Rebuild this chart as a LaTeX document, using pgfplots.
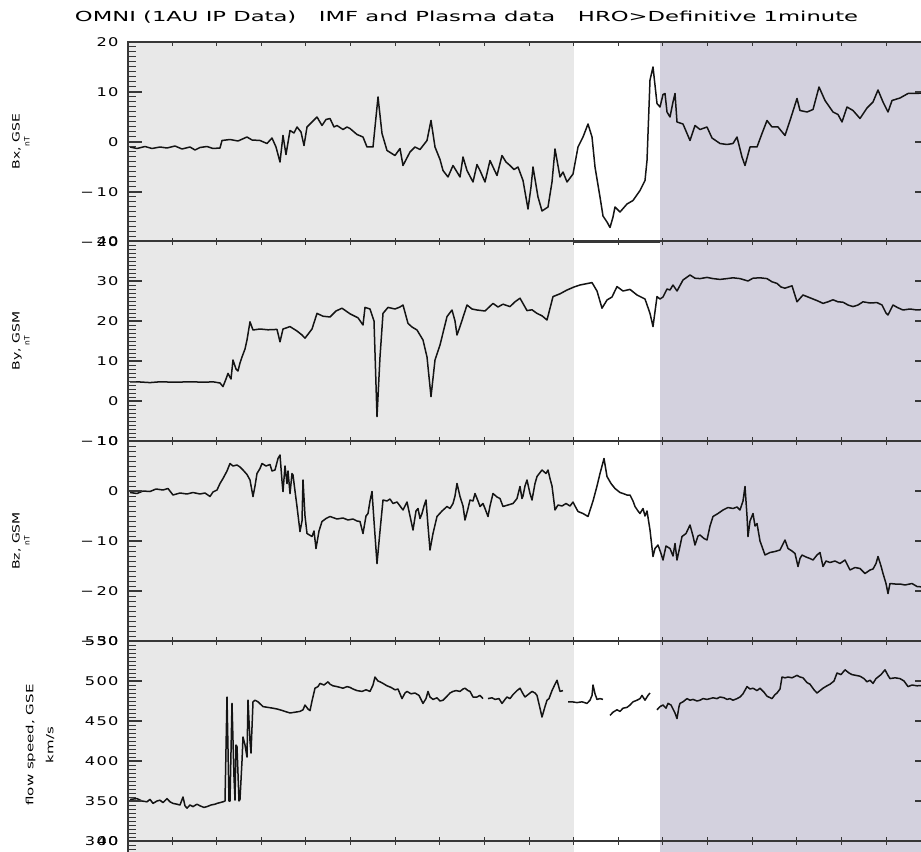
\documentclass[border=0pt]{standalone}
\usepackage{fontspec}
\usepackage{graphicx}
\usepackage{pgfplots}
\pgfplotsset{compat=1.18}
\setmainfont{DejaVu Sans}
\newfontfamily\tickfont{DejaVu Sans}[LetterSpace=8]
\definecolor{bgA}{RGB}{232,232,232}
\definecolor{bgB}{RGB}{211,209,222}
\definecolor{axcol}{RGB}{55,55,55}
\newcommand{\mn}{\symbol{"2212}\hspace{2bp}}
\newcommand{\tl}[1]{\scalebox{1.35}[1]{#1}}
\pgfplotsset{
 panel/.style={
   scale only axis, width=801bp, height=200bp,
   xmin=128, xmax=929,
   axis on top, clip=true,
   xtick=\empty,
   axis line style={axcol, line width=1.3bp},
   major tick style={axcol, line width=1.1bp},
   minor tick style={axcol, line width=1.0bp},
   major tick length=14bp, minor tick length=8bp,
   yticklabel style={font=\fontsize{12bp}{13bp}\tickfont, xshift=-6bp},
   anchor=north west,
   unbounded coords=jump,
 },
 xt/.style={
   scale only axis, width=801bp, height=200bp,
   xmin=128, xmax=929, ymin=0, ymax=1,
   anchor=north west,
   ytick=\empty,
   xtick={172,216.63,261.25,305.88,350.5,395.13,439.75,484.38,529,573.63,618.25,662.88,707.5,752.13,796.75,841.38,886},
   xticklabels={},
   axis line style={draw=none},
   major tick style={axcol, line width=0.9bp},
   major tick length=4bp,
 },
 dline/.style={black!92, line width=1.5bp, line join=round},
}
\begin{document}
\begin{tikzpicture}
\useasboundingbox (0,0) rectangle (921bp,-852bp);
% Panel 1 Bx
\begin{axis}[panel, at={(128bp,-42bp)}, ymin=-20, ymax=20,
  ytick={-20,-10,0,10,20}, minor ytick={-19,-18,...,19},
  yticklabels={\tl{\mn20},\tl{\mn10},\tl{0},\tl{10},\tl{20}}]
\fill[bgA] (axis cs:128,-20) rectangle (axis cs:574,20);
\fill[bgB] (axis cs:660,-20) rectangle (axis cs:929,20);
\addplot[dline] coordinates {
(130,-1.0)(137,-1.3)(145,-0.9)(152,-1.3)(160,-1.0)(167,-1.2)(175,-0.8)(182,-1.4)(190,-1.0)(195,-1.6)(200,-1.1)(207,-0.9)(213,-1.3)(220,-1.2)(222,0.3)(230,0.5)(238,0.2)(247,1.0)(252,0.4)(260,0.3)(267,-0.3)(272,0.8)(276,-1.0)(280,-4.0)(283,1.3)(286,-2.5)(290,2.3)(294,1.8)(297,3.0)(301,2.0)(304,-0.7)(307,3.0)(312,4.0)(317,5.0)(322,3.3)(326,4.5)(330,4.7)(334,3.0)(337,3.3)(343,2.5)(347,3.0)(350,2.7)(357,1.5)(363,1.0)(367,-1.0)(373,-1.0)(378,9.0)(382,1.7)(387,-1.7)(391,-2.2)(395,-2.7)(400,-1.3)(403,-4.7)(410,-2.0)(415,-1.0)(420,-1.5)(427,0.3)(431,4.3)(435,-1.0)(440,-3.5)(443,-5.7)(448,-7.0)(453,-4.7)(457,-6.0)(460,-7.0)(463,-3.0)(467,-5.7)(473,-8.0)(477,-4.5)(480,-5.7)(485,-8.0)(490,-3.7)(493,-5.0)(497,-6.7)(502,-2.7)(506,-4.0)(510,-4.7)(514,-5.5)(518,-5.0)(523,-7.7)(528,-13.4)(531,-9.0)(533,-5.0)(538,-11.0)(542,-13.8)(548,-13.0)(552,-8.0)(555,-1.4)(560,-7.0)(563,-6.0)(567,-8.0)(573,-6.4)(578,-1.0)(583,1.0)(588,3.6)(592,1.0)(595,-5.0)(600,-11.0)(603,-14.8)(607,-16.0)(610,-17.1)(613,-15.0)(615,-13.0)(620,-14.0)(627,-12.4)(633,-11.7)(640,-9.7)(645,-7.7)(647,-3.7)(650,12.4)(653,15.0)(657,7.7)(660,7.0)(663,9.5)(665,9.7)(667,6.0)(670,5.0)(673,8.0)(675,9.7)(677,4.0)(683,3.6)(690,0.3)(695,3.3)(700,2.5)(707,3.0)(712,0.8)(720,-0.3)(727,-0.5)(733,-0.3)(737,1.0)(742,-3.0)(745,-4.7)(750,-1.0)(757,-1.0)(762,1.7)(767,4.3)(772,3.0)(778,3.0)(785,1.3)(790,4.3)(797,8.7)(800,6.3)(807,6.0)(813,6.5)(819,11.0)(825,8.3)(833,6.0)(838,5.5)(842,4.0)(847,7.0)(853,6.3)(860,4.7)(867,6.8)(873,8.0)(878,10.4)(883,8.0)(888,6.0)(892,8.3)(900,8.8)(908,9.7)(917,9.7)(929,10.0)
};
\end{axis}
\begin{axis}[xt, at={(128bp,-42bp)}]\end{axis}
% Panel 2 By
\begin{axis}[panel, at={(128bp,-241bp)}, ymin=-10, ymax=40,
  ytick={-10,0,10,20,30,40}, minor ytick={-9,-8,...,39},
  yticklabels={\tl{\mn10},\tl{0},\tl{10},\tl{20},\tl{30},\tl{40}}]
\fill[bgA] (axis cs:128,-10) rectangle (axis cs:574,40);
\fill[bgB] (axis cs:660,-10) rectangle (axis cs:929,40);
\addplot[dline] coordinates {
(130,4.8)(137,4.8)(150,4.6)(160,4.8)(175,4.7)(190,4.8)(205,4.7)(213,4.8)(220,4.5)(223,3.6)(226,5.5)(228,6.9)(231,5.5)(233,10.25)(236,8.0)(238,7.5)(240,9.5)(242,11.0)(245,13.0)(247,15.25)(250,19.8)(253,17.75)(260,18.0)(268,17.8)(277,17.9)(280,14.8)(283,18.0)(290,18.6)(297,17.5)(302,16.5)(305,15.7)(312,18.0)(317,21.9)(323,21.2)(330,21.0)(336,22.5)(342,23.2)(350,21.8)(358,20.8)(363,19.0)(365,23.4)(370,23.0)(374,20.0)(377,-3.9)(380,11.0)(383,21.9)(388,23.4)(395,23.0)(400,23.5)(403,24.0)(408,19.4)(412,18.5)(417,17.75)(423,15.25)(427,11.0)(431,1.1)(435,10.25)(440,14.0)(447,21.1)(452,22.75)(455,20.0)(457,16.5)(460,18.6)(467,24.0)(472,23.0)(477,22.75)(485,22.5)(493,24.4)(498,23.5)(503,24.2)(510,23.6)(515,24.8)(520,25.7)(527,22.6)(532,22.8)(537,21.9)(542,21.3)(547,20.25)(553,26.1)(560,26.8)(567,27.75)(574,28.5)(580,29.0)(586,29.3)(592,29.6)(597,27.5)(602,23.2)(607,25.25)(612,26.0)(617,28.6)(623,27.5)(630,27.9)(637,26.5)(645,25.5)(650,21.9)(653,18.6)(657,26.1)(660,25.5)(663,26.0)(667,28.0)(670,27.75)(673,29.0)(677,27.5)(683,30.25)(690,31.5)(695,30.7)(700,30.6)(707,30.9)(713,30.6)(720,30.4)(727,30.6)(733,30.8)(740,30.6)(748,30.0)(753,30.7)(760,30.8)(767,30.6)(772,29.8)(777,29.4)(781,28.5)(785,28.2)(792,28.8)(797,24.8)(803,26.5)(808,26.0)(813,25.5)(818,25.0)(823,24.4)(828,24.8)(833,25.3)(838,24.8)(843,24.7)(848,24.0)(853,23.6)(858,24.0)(863,24.8)(870,24.5)(877,24.6)(882,24.0)(886,22.0)(888,21.5)(893,24.0)(898,23.3)(903,22.75)(910,23.0)(917,22.75)(929,23.0)
};
\end{axis}
\begin{axis}[xt, at={(128bp,-241bp)}]\end{axis}
% Panel 3 Bz
\begin{axis}[panel, at={(128bp,-441bp)}, ymin=-30, ymax=10,
  ytick={-30,-20,-10,0,10}, minor ytick={-29,-28,...,9},
  yticklabels={\tl{\mn30},\tl{\mn20},\tl{\mn10},\tl{0},\tl{10}}]
\fill[bgA] (axis cs:128,-30) rectangle (axis cs:574,10);
\fill[bgB] (axis cs:660,-30) rectangle (axis cs:929,10);
\addplot[dline] coordinates {
(130,-0.3)(137,-0.5)(143,0.0)(150,-0.1)(156,0.4)(163,0.2)(168,0.5)(173,-0.8)(180,-0.4)(187,-0.6)(193,-0.3)(200,-0.6)(205,-0.4)(210,-1.1)(213,-0.2)(217,0.2)(220,1.5)(223,2.5)(227,4.0)(230,5.5)(233,5.0)(237,5.2)(240,4.8)(243,4.2)(247,3.3)(250,2.2)(253,-1.1)(255,1.0)(257,3.5)(260,4.5)(262,5.5)(266,5.0)(270,5.3)(272,4.0)(275,4.2)(278,6.5)(280,7.2)(282,2.0)(283,-0.1)(285,5.0)(287,1.5)(288,4.0)(290,-0.5)(292,3.5)(293,3.2)(295,0.0)(297,-3.1)(300,-8.1)(302,-6.0)(303,2.2)(305,-5.0)(307,-8.5)(312,-9.1)(314,-8.0)(316,-11.5)(319,-8.0)(322,-6.1)(326,-5.5)(330,-5.1)(337,-5.6)(343,-5.4)(348,-5.8)(353,-5.6)(357,-6.0)(360,-6.1)(363,-8.5)(366,-5.0)(368,-4.5)(370,-2.0)(372,-0.1)(374,-6.0)(377,-14.5)(380,-8.0)(383,-1.8)(387,-2.0)(390,-1.6)(393,-2.5)(397,-2.2)(400,-3.0)(403,-3.8)(407,-2.2)(410,-5.0)(413,-7.8)(416,-4.0)(418,-3.5)(420,-5.5)(422,-4.5)(424,-3.0)(426,-1.8)(428,-7.0)(430,-11.8)(433,-8.5)(437,-5.1)(442,-4.0)(447,-3.1)(450,-3.5)(453,-2.5)(455,-1.0)(457,1.5)(460,-1.1)(463,-3.0)(465,-5.8)(468,-3.5)(470,-1.8)(473,-2.0)(475,-0.5)(478,-2.0)(480,-3.1)(483,-2.5)(485,-3.5)(488,-5.1)(490,-3.0)(493,-0.5)(497,-1.2)(500,-1.5)(503,-3.1)(508,-2.8)(513,-2.5)(517,-1.5)(520,0.9)(522,-1.5)(523,-1.0)(525,1.0)(527,2.2)(530,-0.5)(532,-1.8)(535,1.5)(537,2.9)(542,4.2)(546,3.5)(548,4.2)(550,2.5)(552,1.0)(555,-3.8)(558,-2.8)(562,-3.0)(566,-2.5)(570,-3.0)(573,-2.2)(575,-3.0)(578,-4.1)(583,-4.5)(588,-5.1)(593,-2.0)(597,1.0)(600,3.5)(604,6.5)(607,2.9)(611,1.5)(615,0.5)(620,-0.3)(623,-0.5)(627,-0.8)(630,-0.8)(633,-2.0)(635,-3.1)(638,-4.0)(640,-4.5)(643,-3.5)(645,-5.0)(647,-4.0)(650,-7.8)(653,-13.1)(655,-11.5)(658,-10.8)(661,-12.5)(663,-13.8)(666,-11.0)(670,-11.5)(673,-13.0)(675,-10.5)(677,-13.8)(680,-11.0)(682,-9.1)(686,-8.5)(690,-6.8)(693,-9.0)(695,-10.8)(698,-9.0)(700,-8.8)(704,-9.5)(707,-9.8)(710,-7.0)(713,-5.1)(718,-4.5)(723,-3.8)(728,-3.3)(733,-3.5)(737,-3.2)(740,-3.8)(743,-2.0)(745,0.9)(747,-5.0)(748,-9.1)(750,-6.0)(753,-4.5)(755,-7.0)(757,-6.5)(760,-10.0)(765,-12.8)(770,-12.3)(775,-12.1)(780,-11.8)(785,-9.8)(788,-11.5)(792,-12.0)(795,-12.5)(798,-15.1)(800,-13.5)(802,-12.8)(806,-13.2)(810,-13.5)(813,-13.8)(817,-12.8)(820,-12.3)(823,-15.1)(826,-14.0)(830,-14.3)(835,-14.0)(840,-14.5)(845,-13.8)(850,-15.8)(855,-15.3)(860,-15.5)(865,-16.5)(870,-15.8)(873,-15.6)(876,-14.5)(878,-13.1)(881,-15.0)(883,-16.5)(886,-18.5)(888,-20.5)(890,-18.5)(895,-18.6)(900,-18.6)(905,-18.8)(912,-18.5)(917,-19.1)(929,-19.3)
};
\end{axis}
\begin{axis}[xt, at={(128bp,-441bp)}]\end{axis}
% Panel 4 flow speed
\begin{axis}[panel, at={(128bp,-641bp)}, ymin=300, ymax=550,
  ytick={300,350,400,450,500,550}, minor ytick={305,310,...,545},
  yticklabels={\tl{300},\tl{350},\tl{400},\tl{450},\tl{500},\tl{550}}]
\fill[bgA] (axis cs:128,300) rectangle (axis cs:574,550);
\fill[bgB] (axis cs:660,300) rectangle (axis cs:929,550);
\addplot[dline] coordinates {
(130,352)(137,353)(142,350)(147,349)(150,352)(153,347)(157,350)(160,351)(163,348)(167,353)(170,349)(173,347)(177,346)(180,345)(183,355)(185,344)(187,341)(190,345)(193,343)(197,346)(200,344)(204,342)(207,343)(211,345)(215,346)(217,347)(220,348)(223,349)(225,350)(227,480)(229,350)(230,350)(232,472)(234,380)(235,351)(236,420)(237,418)(239,350)(240,352)(242,400)(243,430)(245,420)(247,405)(248,476)(250,425)(251,410)(253,474)(255,476)(258,474)(263,468)(268,467)(273,466)(277,465)(280,464)(285,462)(290,460)(295,461)(300,462)(303,464)(305,470)(308,465)(310,463)(312,475)(315,491)(318,493)(320,497)(324,495)(328,499)(330,496)(333,494)(337,493)(340,492)(343,491)(347,493)(350,492)(353,490)(357,488)(362,487)(366,489)(370,487)(373,495)(375,505)(378,500)(380,499)(383,497)(387,494)(391,492)(395,489)(398,490)(402,478)(405,485)(407,487)(411,484)(415,485)(419,482)(423,472)(426,478)(428,487)(430,480)(433,477)(437,479)(440,475)(443,476)(447,481)(450,485)(453,487)(456,488)(460,487)(463,490)(465,491)(468,488)(470,487)(473,480)(477,480)(480,482)(483,478)(485,nan)(488,478)(492,479)(495,477)(499,478)(502,472)(505,477)(507,480)(510,478)(513,483)(517,488)(520,491)(523,484)(525,480)(528,483)(532,487)(535,485)(537,482)(540,466)(542,455)(545,468)(547,476)(549,478)(552,488)(555,496)(557,501)(560,487)(563,488)(565,nan)(568,474)(572,474)(577,473)(582,474)(587,472)(590,476)(592,482)(593,495)(595,484)(597,477)(600,478)(603,477)(606,nan)(610,457)(613,461)(617,464)(620,462)(623,466)(627,467)(630,470)(633,474)(637,476)(640,478)(642,482)(645,476)(648,482)(650,485)(653,nan)(657,464)(660,468)(663,470)(666,466)(668,472)(671,470)(673,465)(675,460)(677,453)(679,468)(680,472)(683,474)(687,478)(690,476)(693,477)(697,475)(700,476)(703,478)(707,477)(710,478)(713,479)(717,478)(720,480)(724,479)(727,477)(730,478)(733,476)(737,478)(740,480)(743,484)(747,493)(750,490)(753,491)(757,488)(760,491)(764,486)(767,481)(772,478)(775,483)(777,485)(780,490)(782,505)(785,504)(788,505)(792,504)(797,507)(800,505)(803,504)(807,498)(810,496)(814,489)(817,485)(820,488)(823,491)(827,494)(830,496)(834,500)(837,510)(841,508)(845,514)(849,510)(852,508)(856,507)(860,506)(864,503)(867,499)(870,501)(873,497)(876,503)(878,505)(881,508)(885,514)(888,507)(890,503)(895,504)(900,503)(904,500)(908,493)(912,495)(917,494)(929,495)
};
\end{axis}
\begin{axis}[xt, at={(128bp,-641bp)}]\end{axis}
% Panel 5 (cut off)
\begin{axis}[panel, at={(128bp,-841bp)}, ymin=-10, ymax=40,
  ytick={40}, minor ytick={-9,-8,...,39}, yticklabels={\tl{40}}]
\fill[bgA] (axis cs:128,-10) rectangle (axis cs:574,40);
\fill[bgB] (axis cs:660,-10) rectangle (axis cs:929,40);
\end{axis}
\begin{axis}[xt, at={(128bp,-841bp)}]\end{axis}
% labels
\node[anchor=base, inner sep=0] at (466.5bp,-21bp) {\resizebox{783bp}{10.5bp}{OMNI (1AU IP Data)\quad IMF and Plasma data\quad HRO>Definitive 1minute}};
\node[rotate=90, align=center, inner sep=0] at (21bp,-141.5bp) {\fontsize{10bp}{9bp}\selectfont\scalebox{1.4}[1]{Bx, GSE}\\[-2bp]\fontsize{7.5bp}{7bp}\selectfont nT};
\node[rotate=90, align=center, inner sep=0] at (21bp,-341bp) {\fontsize{10bp}{9bp}\selectfont\scalebox{1.4}[1]{By, GSM}\\[-2bp]\fontsize{7.5bp}{7bp}\selectfont nT};
\node[rotate=90, align=center, inner sep=0] at (21bp,-541bp) {\fontsize{10bp}{9bp}\selectfont\scalebox{1.4}[1]{Bz, GSM}\\[-2bp]\fontsize{7.5bp}{7bp}\selectfont nT};
\node[rotate=90, align=center, inner sep=0] at (40bp,-745bp) {\fontsize{10bp}{10bp}\selectfont\scalebox{1.5}[1]{flow speed, GSE}\\[8bp]\scalebox{1.5}[1]{km/s}};
\end{tikzpicture}
\end{document}
